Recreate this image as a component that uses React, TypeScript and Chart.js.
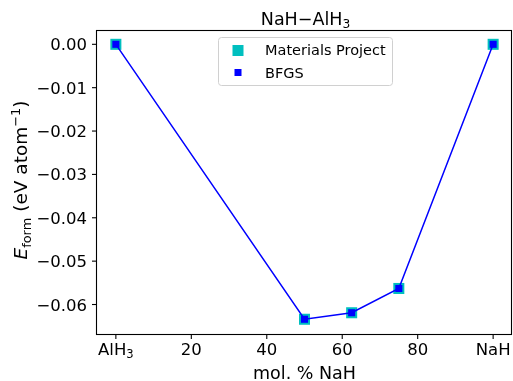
import React, { useEffect, useRef } from 'react';
import { Chart, registerables } from 'chart.js';

Chart.register(...registerables);

const molPercentNaH = [0, 50, 62.5, 75, 100];
const materialsProject = [0, -0.0634, -0.0619, -0.0563, 0];
const bfgs = [0, -0.0634, -0.0619, -0.0563, 0];
const xTickValues = [0, 20, 40, 60, 80, 100];
const yTickValues = [0, -0.01, -0.02, -0.03, -0.04, -0.05, -0.06];
const xTickNames: Record<number, string> = { 0: 'AlH', 100: 'NaH' };

const FONT = '"DejaVu Sans", sans-serif';
const MP_COLOR = '#00bfbf';
const BFGS_COLOR = '#0000ff';
const TICK = 16.5;
const LABEL = 17.5;
const YLABEL = 18.5;
const LEG = 14.5;

type Seg = { text: string; size: number; dy?: number; italic?: boolean };

function drawRich(ctx: CanvasRenderingContext2D, segs: Seg[], x: number, y: number, align: 'center' | 'left' | 'right') {
  let total = 0;
  const widths: number[] = [];
  for (const s of segs) {
    ctx.font = `${s.italic ? 'italic ' : ''}${s.size}px ${FONT}`;
    const w = ctx.measureText(s.text).width;
    widths.push(w);
    total += w;
  }
  let cx = align === 'center' ? x - total / 2 : align === 'right' ? x - total : x;
  ctx.textAlign = 'left';
  ctx.textBaseline = 'alphabetic';
  segs.forEach((s, i) => {
    ctx.font = `${s.italic ? 'italic ' : ''}${s.size}px ${FONT}`;
    ctx.fillText(s.text, cx, y + (s.dy || 0));
    cx += widths[i];
  });
}

const decorPlugin = {
  id: 'decor',
  afterDraw(chart: any) {
    const ctx: CanvasRenderingContext2D = chart.ctx;
    const { left, right, top, bottom } = chart.chartArea;
    const xs = chart.scales.x;
    const ys = chart.scales.y;
    ctx.save();
    ctx.fillStyle = '#000';
    ctx.strokeStyle = '#000';
    ctx.lineWidth = 1.1;
    ctx.strokeRect(left - 0.5, top + 0.5, right - left, bottom - top);
    for (const v of xTickValues) {
      const px = xs.getPixelForValue(v);
      ctx.beginPath();
      ctx.moveTo(px, bottom);
      ctx.lineTo(px, bottom + 5);
      ctx.stroke();
      if (v === 0) {
        drawRich(ctx, [{ text: xTickNames[0], size: TICK }, { text: '3', size: TICK * 0.7, dy: 3 }], px, 355, 'center');
      } else if (v === 100) {
        drawRich(ctx, [{ text: xTickNames[100], size: TICK }], px, 355, 'center');
      } else {
        drawRich(ctx, [{ text: String(v), size: TICK }], px, 355, 'center');
      }
    }
    for (const v of yTickValues) {
      const py = ys.getPixelForValue(v);
      ctx.beginPath();
      ctx.moveTo(left - 5, py);
      ctx.lineTo(left, py);
      ctx.stroke();
      const label = (v < 0 ? '\u2212' : '') + Math.abs(v).toFixed(2);
      drawRich(ctx, [{ text: label, size: TICK }], left - 10, py + 6, 'right');
    }
    drawRich(ctx, [{ text: 'NaH\u2212AlH', size: LABEL }, { text: '3', size: LABEL * 0.7, dy: 3 }], (left + right) / 2 + 1, 24.5, 'center');
    drawRich(ctx, [{ text: 'mol. % NaH', size: LABEL }], (left + right) / 2, 379, 'center');
    ctx.save();
    ctx.translate(27, 180);
    ctx.rotate(-Math.PI / 2);
    drawRich(ctx, [
      { text: 'E', size: YLABEL, italic: true },
      { text: 'form', size: YLABEL * 0.7, dy: 3.5 },
      { text: ' (eV atom', size: YLABEL },
      { text: '\u22121', size: YLABEL * 0.7, dy: -7.5 },
      { text: ')', size: YLABEL },
    ], 0, 0, 'center');
    ctx.restore();
    ctx.beginPath();
    (ctx as any).roundRect(218.5, 37.5, 174, 48, 3);
    ctx.fillStyle = 'rgba(255,255,255,0.8)';
    ctx.fill();
    ctx.strokeStyle = '#d0d0d0';
    ctx.lineWidth = 1;
    ctx.stroke();
    ctx.fillStyle = MP_COLOR;
    ctx.fillRect(238 - 5.5, 50.5 - 5.5, 11, 11);
    ctx.fillStyle = BFGS_COLOR;
    ctx.fillRect(238 - 3.5, 72.5 - 3.5, 7, 7);
    ctx.fillStyle = '#000';
    drawRich(ctx, [{ text: 'Materials Project', size: LEG }], 265, 55, 'left');
    drawRich(ctx, [{ text: 'BFGS', size: LEG }], 265, 77.5, 'left');
    ctx.restore();
  },
};

export default function App() {
  const ref = useRef<HTMLCanvasElement>(null);
  useEffect(() => {
    if (!ref.current) return;
    const chart = new Chart(ref.current, {
      type: 'scatter',
      data: {
        datasets: [
          {
            label: 'BFGS',
            data: molPercentNaH.map((x, i) => ({ x, y: bfgs[i] })),
            showLine: true,
            borderColor: BFGS_COLOR,
            borderWidth: 1.5,
            pointStyle: 'rect',
            pointRadius: 5,
            pointBackgroundColor: BFGS_COLOR,
            pointBorderWidth: 0,
            order: 1,
          } as any,
          {
            label: 'Materials Project',
            data: molPercentNaH.map((x, i) => ({ x, y: materialsProject[i] })),
            showLine: false,
            pointStyle: 'rect',
            pointRadius: 7.8,
            pointBackgroundColor: MP_COLOR,
            pointBorderWidth: 0,
            order: 2,
          } as any,
        ],
      },
      options: {
        animation: false,
        responsive: false,
        events: [],
        layout: { autoPadding: false, padding: { top: 30, left: 97, right: 1, bottom: 47 } },
        plugins: { legend: { display: false }, tooltip: { enabled: false }, title: { display: false } },
        scales: {
          x: { type: 'linear', display: false, min: -5, max: 105 },
          y: { type: 'linear', display: false, min: -0.0668, max: 0.0033 },
        },
      },
      plugins: [decorPlugin],
    });
    return () => chart.destroy();
  }, []);
  return (
    <div style={{ position: 'fixed', left: 0, top: 0, width: 513, height: 381, background: '#fff' }}>
      <canvas ref={ref} width={513} height={381} style={{ width: 513, height: 381 }} />
    </div>
  );
}
